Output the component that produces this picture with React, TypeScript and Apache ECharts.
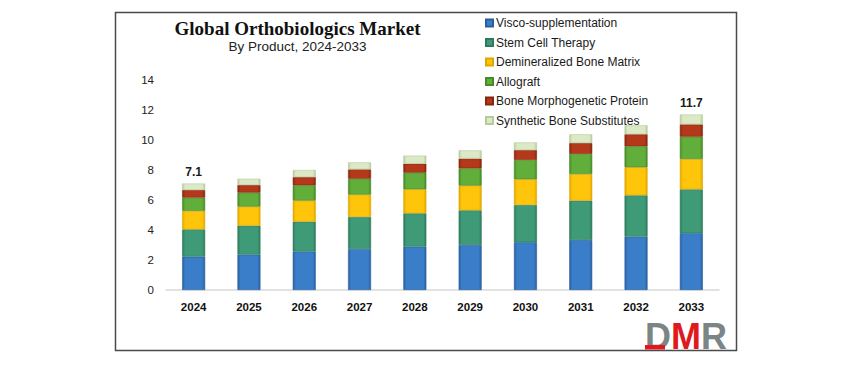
import React, { useEffect, useRef } from "react";
import * as echarts from "echarts";

const years = ["2024", "2025", "2026", "2027", "2028", "2029", "2030", "2031", "2032", "2033"];
const seriesNames = [
  "Visco-supplementation",
  "Stem Cell Therapy",
  "Demineralized Bone Matrix",
  "Allograft",
  "Bone Morphogenetic Protein",
  "Synthetic Bone Substitutes",
];
const visco = [2.22, 2.36, 2.56, 2.73, 2.89, 3.0, 3.18, 3.33, 3.56, 3.78];
const stemCell = [1.82, 1.93, 2.0, 2.14, 2.22, 2.31, 2.49, 2.63, 2.75, 2.93];
const dbm = [1.23, 1.27, 1.4, 1.49, 1.6, 1.65, 1.71, 1.77, 1.87, 2.02];
const allograft = [0.89, 0.93, 1.02, 1.06, 1.11, 1.15, 1.29, 1.34, 1.4, 1.49];
const bmp = [0.51, 0.51, 0.55, 0.62, 0.6, 0.65, 0.66, 0.73, 0.8, 0.82];
const synthetic = [0.43, 0.42, 0.47, 0.47, 0.54, 0.55, 0.51, 0.58, 0.6, 0.66];
const totalLabels = ["7.1", "", "", "", "", "", "", "", "", "11.7"];
const yTicks = [0, 2, 4, 6, 8, 10, 12, 14];

const palette = [
  { base: "#3a7dc9", light: "#5b9be0", dark: "#2a5f9e" },
  { base: "#3f9a78", light: "#5fbf98", dark: "#2d7a5c" },
  { base: "#ffc50a", light: "#ffd84a", dark: "#e0a600" },
  { base: "#62ae3a", light: "#86c95c", dark: "#478a26" },
  { base: "#b4381a", light: "#d05a36", dark: "#872610" },
  { base: "#dbe9c6", light: "#eef6e2", dark: "#b6cc9a" },
];

function barColor(p: { base: string; light: string; dark: string }) {
  return new echarts.graphic.LinearGradient(0, 0, 1, 0, [
    { offset: 0, color: p.dark },
    { offset: 0.12, color: p.base },
    { offset: 0.88, color: p.base },
    { offset: 1, color: p.dark },
  ]);
}

export default function App() {
  const ref = useRef<HTMLDivElement>(null);
  useEffect(() => {
    document.body.style.margin = "0";
    if (!ref.current) return;
    const chart = echarts.init(ref.current, null, { renderer: "svg" });
    const dataSets = [visco, stemCell, dbm, allograft, bmp, synthetic];
    const series = dataSets.map((d, i) => ({
      name: seriesNames[i],
      type: "bar",
      stack: "total",
      barWidth: 23,
      data: d,
      itemStyle: {
        color: barColor(palette[i]),
        borderColor: palette[i].dark,
        borderWidth: 0.6,
      },
      label:
        i === dataSets.length - 1
          ? {
              show: true,
              position: "top",
              distance: 6,
              formatter: (p: any) => totalLabels[p.dataIndex],
              fontFamily: "Liberation Sans",
              fontWeight: "bold",
              fontSize: 12,
              color: "#1a1a1a",
            }
          : { show: false },
    }));
    chart.setOption({
      animation: false,
      backgroundColor: "#ffffff",
      grid: { left: 166, right: 126, top: 80, bottom: 76, containLabel: false },
      legend: {
        orient: "vertical",
        left: 485,
        top: 16,
        padding: 0,
        itemWidth: 7,
        itemHeight: 7,
        itemGap: 5.5,
        icon: "rect",
        data: seriesNames,
        textStyle: {
          fontFamily: "Liberation Sans",
          fontSize: 12,
          lineHeight: 14,
          color: "#1a1a1a",
          padding: [0, 0, 0, -2],
        },
      },
      xAxis: {
        type: "category",
        data: years,
        axisLine: { show: true, lineStyle: { color: "#d9d9d9", width: 1.5 } },
        axisTick: { show: false },
        axisLabel: {
          margin: 11,
          fontFamily: "Liberation Sans",
          fontWeight: "bold",
          fontSize: 11.5,
          color: "#111",
        },
      },
      yAxis: {
        type: "value",
        min: yTicks[0],
        max: yTicks[yTicks.length - 1],
        interval: 2,
        axisLine: { show: false },
        axisTick: { show: false },
        splitLine: { show: false },
        axisLabel: {
          margin: 12,
          fontFamily: "Liberation Sans",
          fontSize: 11.5,
          color: "#222",
        },
      },
      graphic: [
        {
          type: "rect",
          shape: { x: 115.5, y: 12.5, width: 621, height: 338 },
          style: { fill: "none", stroke: "#4a4a4a", lineWidth: 1.5 },
          silent: true,
          z: 0,
        },
        {
          type: "text",
          x: 297.5,
          y: 28,
          style: {
            text: "Global Orthobiologics Market",
            fontFamily: "Liberation Serif",
            fontWeight: "bold",
            fontSize: 19,
            fill: "#111",
            textAlign: "center",
            textVerticalAlign: "middle",
          },
        },
        {
          type: "text",
          x: 297.5,
          y: 46,
          style: {
            text: "By Product, 2024-2033",
            fontFamily: "Liberation Sans",
            fontSize: 13.5,
            fill: "#222",
            textAlign: "center",
            textVerticalAlign: "middle",
          },
        },
        {
          type: "text",
          x: 645,
          y: 336,
          z: 10,
          style: {
            text: "{d|D}{m|M}{r|R}",
            textVerticalAlign: "middle",
            rich: {
              d: { fontFamily: "Liberation Sans", fontWeight: "bold", fontSize: 36, fill: "#7b8585" },
              m: { fontFamily: "Liberation Sans", fontWeight: "bold", fontSize: 36, fill: "#e0191f" },
              r: { fontFamily: "Liberation Sans", fontWeight: "bold", fontSize: 36, fill: "#7b8585" },
            },
          },
        },
        {
          type: "rect",
          z: 11,
          shape: { x: 645, y: 345, width: 20, height: 4.5 },
          style: { fill: "#e0191f" },
          silent: true,
        },
      ],
      series,
    });
    return () => chart.dispose();
  }, []);
  return <div ref={ref} style={{ width: 845, height: 366 }} />;
}
